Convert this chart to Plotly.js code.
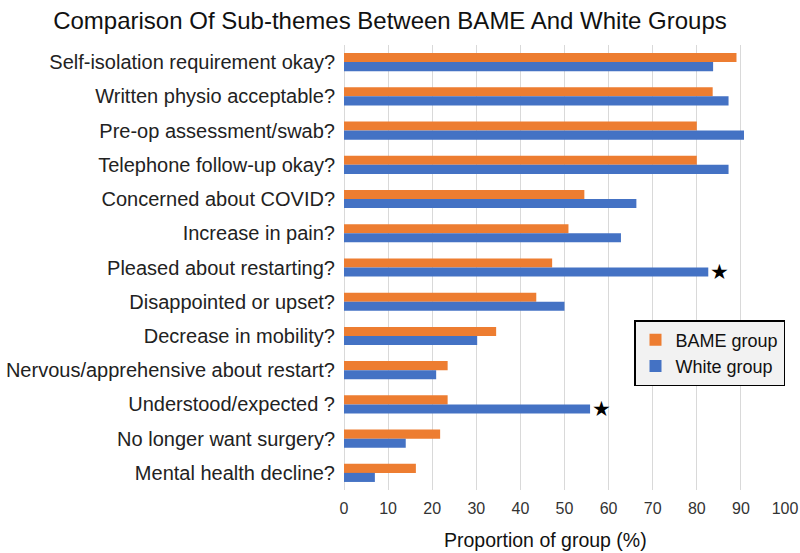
<!DOCTYPE html>
<html>
<head>
<meta charset="utf-8">
<script src="https://cdn.plot.ly/plotly-3.0.1.min.js"></script>
<style>html,body{margin:0;padding:0;background:#fff;}#chart{width:800px;height:553px;}</style>
</head>
<body>
<div id="chart"></div>
<script>
var categories = [
  "Self-isolation requirement okay?",
  "Written physio acceptable?",
  "Pre-op assessment/swab?",
  "Telephone follow-up okay?",
  "Concerned about COVID?",
  "Increase in pain?",
  "Pleased about restarting?",
  "Disappointed or upset?",
  "Decrease in mobility?",
  "Nervous/apprehensive about restart?",
  "Understood/expected ?",
  "No longer want surgery?",
  "Mental health decline?"
];
var bameValues = [89.0, 83.6, 80.0, 80.0, 54.5, 50.9, 47.2, 43.6, 34.5, 23.5, 23.5, 21.8, 16.3];
var whiteValues = [83.7, 87.2, 90.7, 87.2, 66.3, 62.8, 82.6, 50.0, 30.2, 20.9, 55.8, 14.0, 7.0];
var starCategories = ["Pleased about restarting?", "Understood/expected ?"];
var starValues = [82.6, 55.8];
var xTickVals = [0,10,20,30,40,50,60,70,80,90,100];

var font = "Liberation Sans, Arial, sans-serif";
var traces = [
  {type:'bar', orientation:'h', name:'BAME group', y:categories, x:bameValues,
   marker:{color:'#ED7D31'}},
  {type:'bar', orientation:'h', name:'White group', y:categories, x:whiteValues,
   marker:{color:'#4472C4'}}
];
var annotations = starCategories.map(function(c, i){
  return {x:starValues[i], y:c, xref:'x', yref:'y', text:'★', showarrow:false,
          xanchor:'left', yanchor:'middle', xshift:0, yshift:-4.5,
          font:{size:21, color:'#000', family:'DejaVu Sans'}};
});
annotations.push({text:'Proportion of group (%)', xref:'paper', yref:'paper', x:0.458, y:-0.112,
  xanchor:'center', yanchor:'middle', showarrow:false, font:{size:19.5, color:'#111', family:font}});
var layout = {
  width:800, height:553,
  margin:{l:344, r:15, t:45, b:63},
  paper_bgcolor:'#fff', plot_bgcolor:'#fff',
  font:{family:font, color:'#222'},
  title:{text:'Comparison Of Sub-themes Between BAME And White Groups', font:{size:24, family:font, color:'#111'},
         x:0.4875, xanchor:'center', y:0.963, yanchor:'middle'},
  barmode:'group', bargap:0.47, bargroupgap:0,
  xaxis:{range:[0,100], tickvals:xTickVals, showgrid:true, gridcolor:'#d9d9d9', gridwidth:1,
         zeroline:true, zerolinecolor:'#d9d9d9', zerolinewidth:1, showline:false, ticks:'',
         ticklabelstandoff:7, tickfont:{size:16, color:'#333'}, fixedrange:true, automargin:false},
  yaxis:{autorange:'reversed', type:'category', categoryorder:'array', categoryarray:categories,
         tickfont:{size:20, color:'#222'}, ticks:'', ticklabelstandoff:8, showline:false, automargin:false},
  legend:{x:1, y:0.382, xanchor:'right', yanchor:'top', bgcolor:'#f2f2f2', bordercolor:'#000', borderwidth:1.5,
          font:{size:18, color:'#111'}, traceorder:'normal', itemwidth:30},
  annotations:annotations,
  showlegend:true
};
Plotly.newPlot('chart', traces, layout, {displayModeBar:false, staticPlot:true});
</script>
</body>
</html>
